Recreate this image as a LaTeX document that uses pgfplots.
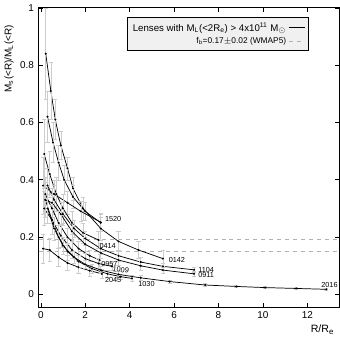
\documentclass[border=0pt]{standalone}
\usepackage{pgfplots}
\pgfplotsset{compat=1.18}
\usepackage{fontspec}
\setmainfont{Liberation Sans}
\begin{document}
\begin{tikzpicture}
\begin{axis}[
  scale only axis,
  width=227pt, height=226pt,
  xmin=-0.1, xmax=13.45, ymin=-0.045, ymax=1,
  xtick={0,2,4,6,8,10,12},
  ytick={0,0.2,0.4,0.6,0.8,1},
  tick align=inside,
  major tick length=3.5pt,
  tick style={black, line width=0.5pt},
  axis line style={line width=0.8pt},
  /pgf/number format/assume math mode=true,
  tick label style={font=\fontsize{7.5}{9}\selectfont},
  ylabel={M\textsubscript{s}(<R)/M\textsubscript{L}(<R)},
  ylabel style={font=\fontsize{7.5}{9}\selectfont, at={(ticklabel cs:0.83)}, yshift=-2pt},
  xlabel={R/R\textsubscript{e}},
  xlabel style={font=\fontsize{8}{9}\selectfont, at={(rel axis cs:1,0)}, anchor=north east, yshift=-10pt, xshift=-0.5pt},
  legend style={at={(rel axis cs:0.897,0.97)}, anchor=north east, fill=gray!12, draw=black, line width=0.5pt,
    font=\fontsize{7.3}{8.5}\selectfont, cells={anchor=east}, inner sep=2pt, row sep=-1pt},
  legend plot pos=right,
  legend image post style={xscale=0.7},
  curve/.style={black, line width=0.55pt, mark=*, mark size=0.45pt,
    error bars/y dir=both, error bars/y explicit,
    error bars/error bar style={gray!40, line width=0.45pt},
    error bars/error mark options={gray!40, rotate=90, mark size=1.6pt, line width=0.45pt}},
]
\addlegendimage{black, line width=0.6pt}
\addlegendentry{Lenses with M\textsubscript{L}(<2R\textsubscript{e}) > 4x10\textsuperscript{11} M\textsubscript{$\odot$}}
\addlegendimage{gray!60, dashed, line width=0.5pt}
\addlegendentry{{\fontsize{6.3}{7}\selectfont f\textsubscript{b}=0.17$\pm$0.02 (WMAP5)}}

% f_b band
\addplot[gray!60, dashed, line width=0.5pt, forget plot] coordinates {(-0.1,0.193) (13.45,0.193)};
\addplot[gray!60, dashed, line width=0.5pt, forget plot] coordinates {(-0.1,0.150) (13.45,0.150)};

% 0142
\addplot[curve, forget plot] coordinates {
 (0.22,0.84) +- (0,0.16) (0.45,0.71) +- (0,0.10) (0.65,0.61) +- (0,0.07) (0.9,0.52) +- (0,0.05)
 (1.2,0.44) +- (0,0.04) (1.45,0.37) +- (0,0.04) (1.9,0.30) +- (0,0.04) (2.7,0.23) +- (0,0.04)
 (3.5,0.185) +- (0,0.035) (4.4,0.155) +- (0,0.03) (5.5,0.125) +- (0,0.03)};
% 1520 (steep)
\addplot[curve, forget plot] coordinates {
 (0.3,0.62) +- (0,0.09) (0.55,0.53) +- (0,0.07) (0.8,0.46) +- (0,0.06) (1.05,0.40) +- (0,0.05)
 (1.45,0.34) +- (0,0.04) (2.0,0.29) +- (0,0.03) (2.7,0.25) +- (0,0.03)};
% 1520 (flat)
\addplot[curve, forget plot] coordinates {
 (0.1,0.38) +- (0,0.1) (0.6,0.35) +- (0,0.05) (1.2,0.32) +- (0,0.04) (1.8,0.29) +- (0,0.035) (2.7,0.252) +- (0,0.03)};
% 0414
\addplot[curve, forget plot] coordinates {
 (0.15,0.49) +- (0,0.12) (0.4,0.42) +- (0,0.08) (0.7,0.35) +- (0,0.06) (1.0,0.30) +- (0,0.05)
 (1.4,0.25) +- (0,0.04) (1.9,0.215) +- (0,0.035) (2.6,0.19) +- (0,0.03)};
% 1104
\addplot[curve, forget plot] coordinates {
 (0.3,0.38) +- (0,0.06) (0.6,0.33) +- (0,0.05) (1.0,0.28) +- (0,0.04) (1.5,0.23) +- (0,0.03)
 (2.0,0.195) +- (0,0.025) (2.7,0.16) +- (0,0.02) (3.5,0.135) +- (0,0.018) (4.5,0.113) +- (0,0.015)
 (5.5,0.098) +- (0,0.012) (6.9,0.086) +- (0,0.01)};
% 0911
\addplot[curve, forget plot] coordinates {
 (0.2,0.33) +- (0,0.06) (0.5,0.32) +- (0,0.05) (0.9,0.28) +- (0,0.04) (1.4,0.22) +- (0,0.03)
 (2.0,0.175) +- (0,0.025) (2.7,0.145) +- (0,0.02) (3.5,0.12) +- (0,0.017) (4.5,0.10) +- (0,0.014)
 (5.5,0.085) +- (0,0.012) (6.9,0.072) +- (0,0.01)};
% 0957
\addplot[curve, forget plot] coordinates {
 (0.2,0.35) +- (0,0.06) (0.5,0.30) +- (0,0.05) (0.8,0.25) +- (0,0.04) (1.2,0.20) +- (0,0.03)
 (1.7,0.16) +- (0,0.025) (2.2,0.135) +- (0,0.02) (2.65,0.12) +- (0,0.02)};
% 1009
\addplot[curve, forget plot] coordinates {
 (0.15,0.30) +- (0,0.06) (0.5,0.26) +- (0,0.05) (0.9,0.205) +- (0,0.04) (1.4,0.155) +- (0,0.03)
 (2.0,0.125) +- (0,0.02) (2.6,0.108) +- (0,0.018) (3.2,0.098) +- (0,0.015)};
% 2045
\addplot[curve, forget plot] coordinates {
 (0.1,0.16) +- (0,0.05) (0.4,0.155) +- (0,0.04) (0.8,0.13) +- (0,0.03) (1.2,0.11) +- (0,0.025)
 (1.7,0.095) +- (0,0.02) (2.2,0.083) +- (0,0.018) (2.75,0.072) +- (0,0.015)};
% 1030
\addplot[curve, forget plot] coordinates {
 (0.2,0.33) +- (0,0.06) (0.5,0.26) +- (0,0.05) (0.8,0.20) +- (0,0.04) (1.2,0.15) +- (0,0.03)
 (1.7,0.115) +- (0,0.02) (2.3,0.09) +- (0,0.015) (3.0,0.072) +- (0,0.012) (3.6,0.062) +- (0,0.01) (4.1,0.056) +- (0,0.01)};
% 2016
\addplot[curve, forget plot] coordinates {
 (0.3,0.30) +- (0,0.05) (0.6,0.23) +- (0,0.04) (1.0,0.17) +- (0,0.03) (1.5,0.13) +- (0,0.02)
 (2.0,0.105) +- (0,0.015) (2.7,0.085) +- (0,0.012) (3.5,0.07) +- (0,0.01) (4.5,0.058) +- (0,0.008)
 (5.8,0.045) +- (0,0.006) (7.4,0.033) +- (0,0.005) (8.8,0.028) +- (0,0.004) (10.1,0.024) +- (0,0.004)
 (11.5,0.021) +- (0,0.003) (12.86,0.018) +- (0,0.003)};

\begin{scope}[every node/.style={font=\fontsize{5.5}{6}\selectfont, inner sep=0.5pt}]
\node[anchor=west] at (axis cs:2.85,0.262) {1520};
\node[anchor=west] at (axis cs:2.6,0.168) {0414};
\node[anchor=west] at (axis cs:5.72,0.122) {0142};
\node[anchor=west] at (axis cs:2.68,0.108) {0957};
\node[anchor=west, rotate=-8] at (axis cs:3.2,0.09) {1009};
\node[anchor=west] at (axis cs:2.85,0.052) {2045};
\node[anchor=west] at (axis cs:4.35,0.038) {1030};
\node[anchor=west] at (axis cs:7.05,0.087) {1104};
\node[anchor=west] at (axis cs:7.05,0.068) {0911};
\node[anchor=south] at (axis cs:13.0,0.022) {2016};
\end{scope}
\end{axis}
\end{tikzpicture}
\end{document}
